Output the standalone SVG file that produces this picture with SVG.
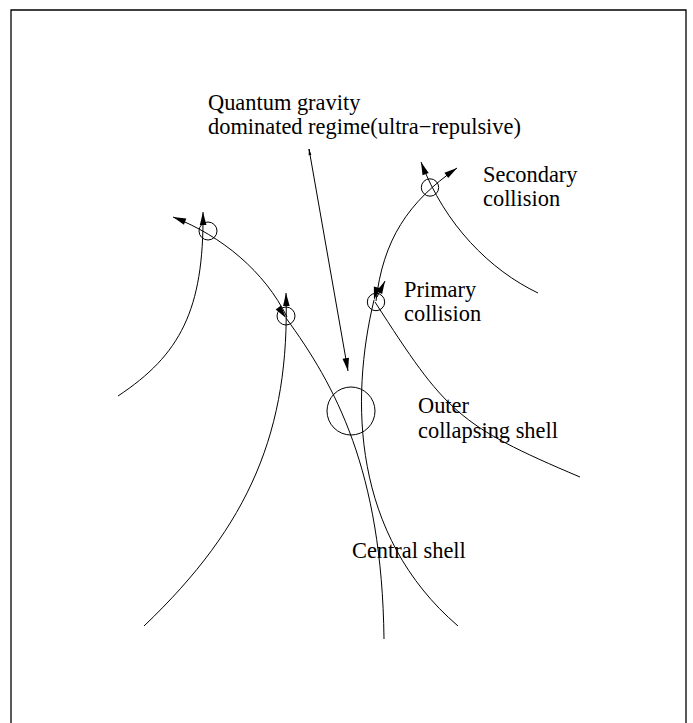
<svg xmlns="http://www.w3.org/2000/svg" width="693" height="723" viewBox="0 0 693 723">
<style>
.ln{fill:none;stroke:#000;stroke-width:1}
.ring{fill:none;stroke:#000;stroke-width:1}
.lbl{font-family:"Liberation Serif","Times New Roman",serif;font-size:22.4px;fill:#000}
</style>
<defs>
<marker id="ah" markerUnits="userSpaceOnUse" markerWidth="16" markerHeight="10" viewBox="-15 -5 16 10" refX="0" refY="0" orient="auto"><path d="M0,0 L-13,-3.3 L-13,3.3 Z" fill="#000"/></marker>
<marker id="ahs" markerUnits="userSpaceOnUse" markerWidth="8" markerHeight="4" viewBox="-7 -2 8 4" refX="0" refY="0" orient="auto"><path d="M0,0 L-6,-1.4 L-6,1.4 Z" fill="#000"/></marker>
</defs>
<rect width="693" height="723" fill="#fff"/>
<path d="M11,723 V10 H686 V723" fill="none" stroke="#000" stroke-width="1.3"/>
<g id="connectors">
<path class="ln" d="M118,396 C180,355 204,310 203,212" marker-end="url(#ah)"/>
<path class="ln" d="M287,317 C265,272 222,236 173,217" marker-end="url(#ah)"/>
<path class="ln" d="M286,318 C335,385 382,470 384,639" marker-start="url(#ah)"/>
<path class="ln" d="M144,626 C250,525 290,430 286,293" marker-end="url(#ah)"/>
<path class="ln" d="M376,301 C383,240 408,202 457,168" marker-end="url(#ah)"/>
<path class="ln" d="M374,300 C350,400 352,535 458,626" marker-start="url(#ah)"/>
<path class="ln" d="M538,293 C490,270 445,225 421,162" marker-end="url(#ah)"/>
<path class="ln" d="M375,302 C446,412 457,425 580,477"/>
<path class="ln" d="M377,297 L385,281" marker-end="url(#ah)"/>
<path class="ln" d="M309,149 L348,371" marker-end="url(#ah)"/>
<path class="ln" d="M310,155 L309,149" marker-end="url(#ahs)"/>
</g>
<g id="collision-left-upper"><circle class="ring" cx="208" cy="231" r="9"/></g>
<g id="collision-left-lower"><circle class="ring" cx="286" cy="316" r="9"/></g>
<g id="primary-collision"><circle class="ring" cx="376" cy="302" r="8.7"/>
<text class="lbl" x="404" y="297">Primary</text><text class="lbl" x="404" y="321">collision</text></g>
<g id="secondary-collision"><circle class="ring" cx="430" cy="187.5" r="8.7"/>
<text class="lbl" x="483" y="181.5">Secondary</text><text class="lbl" x="483" y="205.5">collision</text></g>
<g id="quantum-regime"><circle class="ring" cx="351" cy="411" r="24"/>
<text class="lbl" x="208" y="110">Quantum gravity</text><text class="lbl" x="208" y="134">dominated regime(ultra−repulsive)</text></g>
<g id="outer-shell"><text class="lbl" x="418" y="413">Outer</text><text class="lbl" x="418" y="438">collapsing shell</text></g>
<g id="central-shell"><text class="lbl" x="352" y="558">Central shell</text></g>
</svg>
